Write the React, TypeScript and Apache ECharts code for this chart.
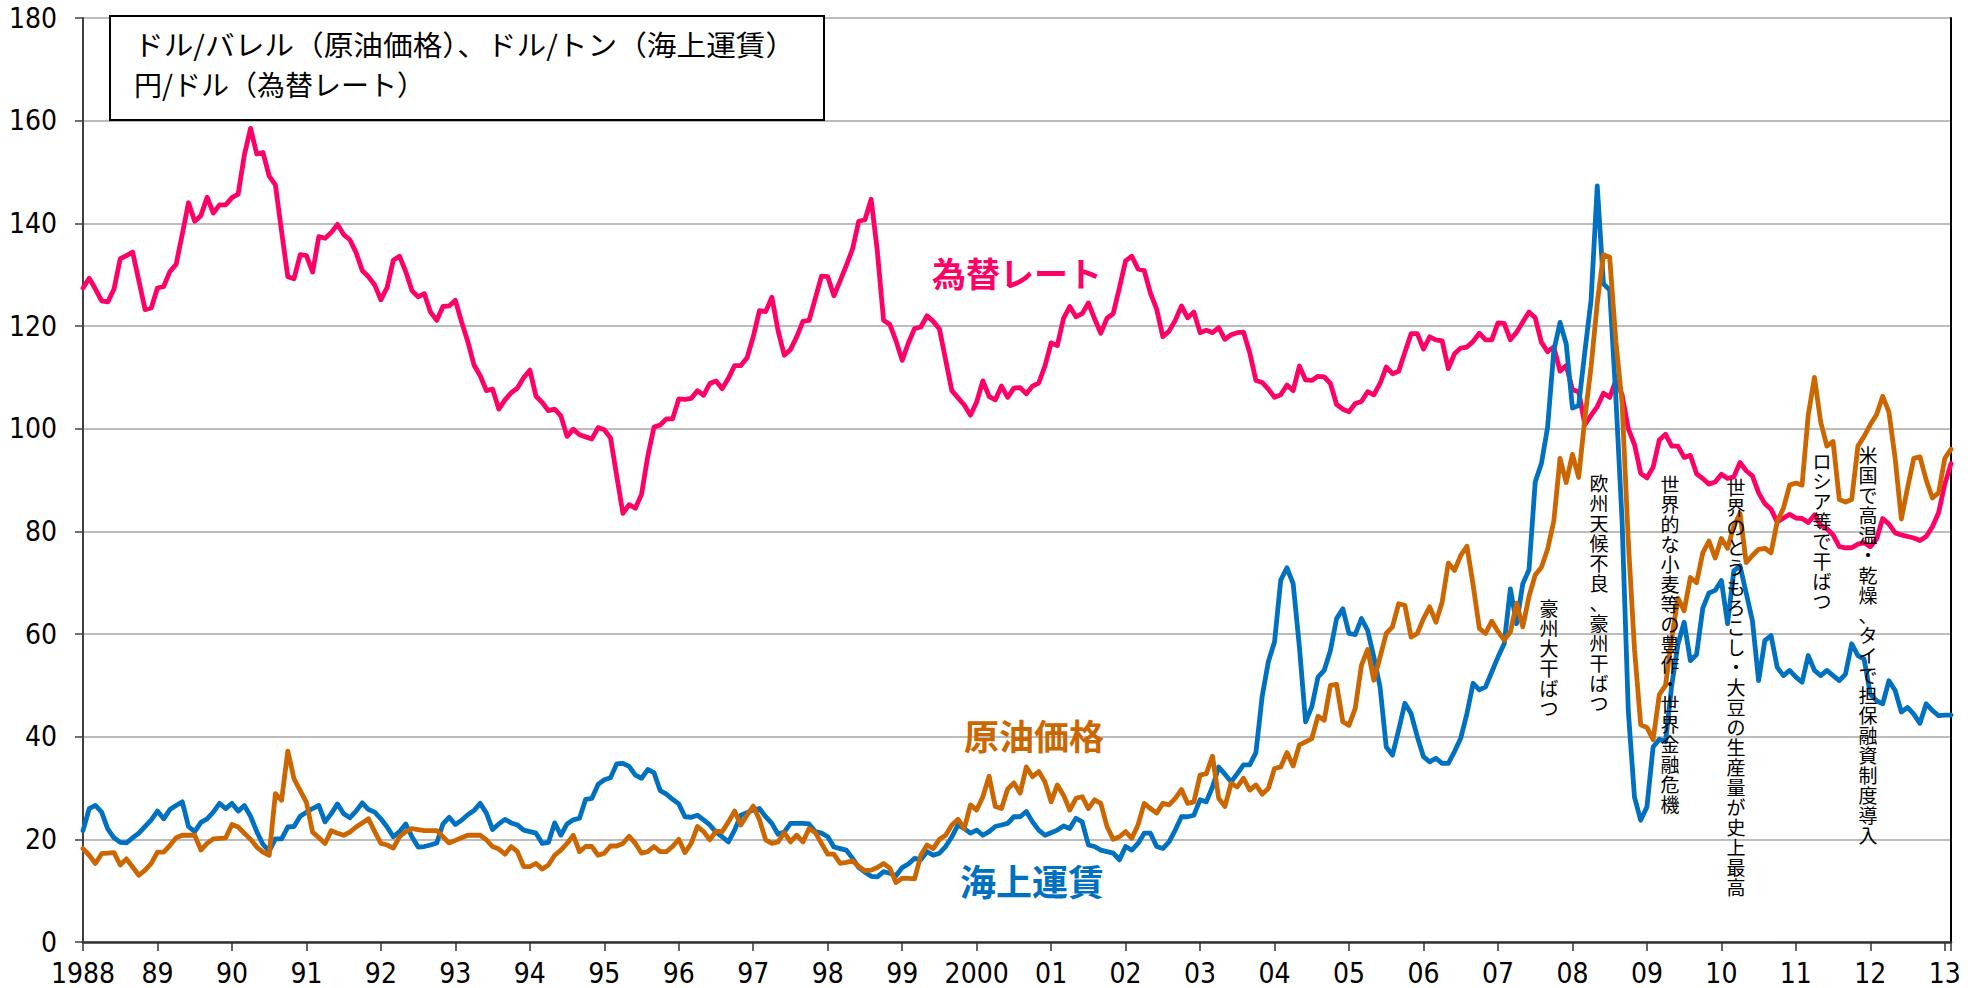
import React, { useEffect, useRef } from 'react';
import * as echarts from 'echarts';

// ---------- data (monthly, Jan 1988 - Feb 2013) ----------
const START_YEAR = 1988;

const yearLabels = [
  '1988', '89', '90', '91', '92', '93', '94', '95', '96', '97', '98', '99',
  '2000', '01', '02', '03', '04', '05', '06', '07', '08', '09', '10', '11', '12', '13',
];

// 為替レート (円/ドル)
const exchangeRate = [
  127.4, 129.3, 127.2, 124.9, 124.7, 127.2, 133.1, 133.7, 134.4, 128.8, 123.2, 123.5,
  127.4, 127.7, 130.6, 132.0, 137.9, 144.0, 140.4, 141.5, 145.1, 142.0, 143.6, 143.6,
  145.0, 145.7, 153.3, 158.5, 153.5, 153.8, 149.2, 147.5, 138.4, 129.6, 129.2, 133.9,
  133.7, 130.5, 137.4, 137.1, 138.2, 139.8, 137.8, 136.8, 134.3, 130.8, 129.6, 128.0,
  125.1, 127.5, 132.8, 133.6, 130.6, 126.9, 125.7, 126.3, 122.7, 121.1, 123.8, 123.9,
  125.0, 120.8, 117.0, 112.4, 110.3, 107.4, 107.7, 103.8, 105.6, 107.0, 107.9, 109.9,
  111.4, 106.3, 105.1, 103.5, 103.8, 102.5, 98.5, 99.9, 98.8, 98.4, 98.0, 100.2,
  99.8, 98.2, 90.8, 83.5, 85.2, 84.5, 87.2, 94.6, 100.3, 100.7, 101.9, 101.9,
  105.8, 105.7, 105.9, 107.4, 106.5, 108.8, 109.3, 107.8, 109.8, 112.3, 112.3, 113.8,
  117.9, 123.0, 122.8, 125.6, 119.1, 114.3, 115.4, 117.9, 120.9, 121.1, 125.4, 129.7,
  129.6, 125.9, 128.8, 131.8, 135.0, 140.4, 140.7, 144.7, 134.5, 121.1, 120.3, 117.1,
  113.3, 116.7, 119.5, 119.8, 122.0, 120.9, 119.4, 113.4, 107.4, 106.0, 104.6, 102.6,
  105.2, 109.3, 106.3, 105.6, 108.3, 106.1, 107.9, 108.0, 106.8, 108.3, 108.9, 112.2,
  116.7, 116.2, 121.5, 123.8, 121.8, 122.4, 124.5, 121.4, 118.6, 121.5, 122.4, 127.4,
  132.7, 133.6, 131.1, 130.8, 126.4, 123.3, 117.9, 119.0, 121.1, 123.9, 121.6, 122.7,
  118.7, 119.2, 118.7, 119.7, 117.4, 118.3, 118.7, 118.8, 114.8, 109.4, 109.0, 107.7,
  106.1, 106.6, 108.5, 107.4, 112.2, 109.5, 109.4, 110.2, 110.1, 108.8, 104.7, 103.8,
  103.3, 104.9, 105.3, 107.2, 106.6, 108.8, 112.0, 110.7, 111.2, 114.9, 118.5, 118.5,
  115.5, 117.9, 117.3, 117.1, 111.7, 114.6, 115.7, 115.9, 117.0, 118.6, 117.3, 117.3,
  120.6, 120.5, 117.3, 118.8, 120.8, 122.7, 121.6, 116.8, 115.0, 115.9, 111.2, 112.3,
  107.6, 107.2, 100.8, 102.6, 104.3, 106.9, 106.1, 109.4, 106.6, 100.0, 96.9, 91.3,
  90.4, 92.5, 97.8, 98.9, 96.6, 96.6, 94.4, 94.8, 91.2, 90.3, 89.2, 89.6,
  91.1, 90.3, 90.6, 93.4, 91.8, 90.8, 87.5, 85.4, 84.3, 81.8, 82.6, 83.3,
  82.6, 82.5, 81.7, 83.2, 81.2, 80.5, 79.3, 77.0, 76.8, 76.8, 77.5, 77.8,
  77.0, 78.5, 82.5, 81.4, 79.7, 79.3, 79.0, 78.7, 78.2, 79.0, 80.9, 83.6,
  89.2, 93.2,
];

// 原油価格 (ドル/バレル)
const crudeOil = [
  18.2, 16.9, 15.3, 17.2, 17.3, 17.4, 15.0, 16.2, 14.6, 13.0, 14.0, 15.3,
  17.5, 17.5, 18.8, 20.3, 20.8, 20.8, 20.8, 17.9, 19.2, 20.1, 20.2, 20.3,
  22.9, 22.4, 21.2, 20.0, 18.5, 17.5, 16.9, 28.9, 27.6, 37.2, 31.8, 29.5,
  27.2, 21.4, 20.3, 19.2, 21.7, 21.2, 20.8, 21.4, 22.4, 23.2, 24.0, 21.5,
  19.2, 18.9, 18.3, 20.5, 21.5, 22.1, 21.9, 21.7, 21.7, 21.7, 20.5, 19.3,
  19.8, 20.3, 20.8, 20.8, 20.8, 19.9, 18.6, 18.1, 17.1, 18.6, 17.6, 14.7,
  14.7, 15.3, 14.2, 15.0, 16.9, 17.9, 19.2, 20.8, 17.6, 18.6, 18.6, 16.9,
  17.3, 18.7, 18.7, 19.2, 20.6, 19.2, 17.3, 17.6, 18.6, 17.6, 17.6, 18.6,
  20.0, 17.4, 19.2, 22.5, 21.5, 19.9, 21.6, 21.5, 23.4, 25.5, 22.8, 24.7,
  26.5, 23.8, 19.9, 19.2, 19.5, 21.3, 19.5, 20.8, 19.5, 22.1, 21.3, 19.2,
  17.1, 17.1, 15.3, 15.5, 15.8, 14.7, 13.9, 14.0, 14.5, 15.3, 14.4, 11.6,
  12.4, 12.4, 12.3, 16.9, 18.9, 18.2, 20.0, 20.8, 22.8, 23.9, 22.1, 26.7,
  25.7, 28.3, 32.3, 26.4, 26.0, 29.8, 31.0, 29.0, 34.1, 32.2, 33.2, 31.2,
  27.3, 30.6, 28.6, 25.7, 28.0, 28.3, 26.0, 27.7, 27.0, 22.5, 20.0, 20.5,
  21.5, 20.2, 22.8, 27.0, 26.0, 25.1, 27.0, 26.7, 28.0, 29.7, 27.0, 27.3,
  32.5, 32.8, 36.2, 28.0, 26.4, 30.9, 30.2, 31.9, 29.6, 30.6, 28.8, 29.9,
  33.8, 34.1, 36.9, 34.3, 38.4, 39.0, 39.6, 44.0, 43.2, 50.0, 50.2, 42.9,
  42.2, 45.5, 53.9, 57.0, 51.0, 55.5, 60.1, 61.4, 65.9, 65.6, 59.4, 60.1,
  63.0, 65.3, 62.3, 66.2, 73.8, 72.4, 75.3, 77.1, 69.5, 61.1, 60.1, 62.5,
  60.5, 58.8, 60.4, 66.0, 61.4, 67.3, 71.5, 73.0, 76.5, 82.0, 94.2, 89.5,
  95.0, 90.5, 102.0, 112.0, 124.5, 133.9, 133.4, 117.0, 105.0, 78.0, 57.0, 42.3,
  41.8, 39.4, 48.2, 50.0, 59.2, 67.0, 64.5, 71.0, 70.0, 75.8, 78.1, 74.8,
  78.6, 76.7, 81.0, 83.5, 73.9, 75.3, 76.5, 76.7, 75.8, 81.9, 84.5, 89.0,
  89.4, 89.0, 102.7, 110.0, 101.3, 96.6, 97.5, 86.2, 85.7, 86.2, 96.6, 98.5,
  100.8, 102.7, 106.3, 103.2, 94.2, 82.4, 88.5, 94.2, 94.5, 90.0, 86.5, 87.5,
  94.2, 96.0,
];

// 海上運賃 (ドル/トン)
const oceanFreight = [
  21.7, 26.0, 26.6, 25.3, 22.0, 20.3, 19.4, 19.3, 20.3, 21.2, 22.5, 23.8,
  25.5, 24.0, 25.8, 26.6, 27.3, 22.5, 21.5, 23.3, 24.0, 25.3, 27.0, 26.0,
  27.0, 25.5, 26.6, 24.5, 21.5, 19.0, 17.7, 20.1, 20.1, 22.4, 22.5, 24.5,
  25.3, 26.0, 26.6, 23.4, 25.0, 26.9, 25.0, 24.2, 25.5, 27.1, 25.8, 25.3,
  24.0, 22.4, 20.5, 21.5, 23.0, 20.5, 18.5, 18.6, 18.9, 19.3, 23.0, 24.3,
  22.9, 23.7, 24.8, 25.6, 27.0, 25.1, 21.9, 23.0, 23.9, 23.2, 22.8, 21.8,
  21.5, 21.2, 19.2, 19.4, 23.2, 20.8, 23.0, 23.8, 24.1, 27.8, 28.0, 30.7,
  31.6, 32.0, 34.7, 34.8, 34.2, 32.5, 31.9, 33.6, 33.0, 29.5, 28.8, 27.8,
  26.9, 24.4, 24.3, 24.7, 23.8, 22.8, 21.4, 20.5, 19.5, 21.8, 24.7, 25.2,
  25.7, 26.0, 24.4, 23.1, 21.0, 21.4, 23.1, 23.1, 23.1, 23.0, 21.5, 21.2,
  20.5, 18.5, 18.2, 17.9, 16.3, 14.5, 13.6, 12.8, 12.7, 13.7, 13.4, 12.9,
  14.5, 15.2, 16.3, 16.0, 17.6, 16.9, 17.3, 18.6, 20.5, 22.8, 22.1, 21.2,
  21.8, 20.8, 21.5, 22.5, 22.8, 23.1, 24.4, 24.4, 25.4, 23.4, 21.8, 20.8,
  21.3, 21.8, 22.6, 22.1, 24.1, 23.4, 18.9, 18.6, 17.9, 17.6, 17.3, 16.0,
  18.6, 17.9, 19.2, 21.2, 21.2, 18.6, 18.2, 19.5, 21.8, 24.4, 24.4, 24.7,
  27.7, 27.3, 30.2, 34.1, 32.7, 31.2, 32.8, 34.5, 34.5, 36.9, 47.8, 54.6,
  58.5, 70.5, 72.9, 69.8, 57.5, 42.9, 45.8, 51.6, 52.9, 56.8, 63.0, 64.9,
  60.1, 59.9, 63.0, 60.7, 55.5, 49.7, 38.0, 36.4, 41.3, 46.5, 44.5, 40.0,
  36.1, 35.1, 35.8, 34.8, 34.8, 37.1, 39.7, 44.5, 50.4, 49.1, 49.7, 52.6,
  55.5, 58.1, 68.8, 62.0, 69.8, 72.5, 89.6, 93.2, 100.3, 115.2, 120.7, 116.5,
  104.0, 104.5, 115.0, 125.0, 147.3, 128.2, 127.0, 106.0, 82.0, 45.0, 28.2, 23.7,
  26.3, 38.0, 39.5, 39.0, 50.0, 58.0, 62.3, 54.8, 56.0, 65.0, 68.0, 68.5,
  70.4, 62.0, 72.3, 73.3, 68.0, 62.6, 50.9, 58.7, 59.7, 53.5, 51.9, 52.9,
  51.6, 50.6, 55.8, 52.9, 51.9, 52.9, 51.9, 50.9, 52.2, 58.1, 55.8, 55.1,
  48.3, 47.0, 46.4, 50.9, 49.0, 44.8, 45.7, 44.4, 42.6, 46.4, 45.1, 44.1,
  44.2, 44.2,
];

const unitLines = [
  'ドル/バレル（原油価格）、ドル/トン（海上運賃）',
  '円/ドル（為替レート）',
];
const seriesNames = ['為替レート', '原油価格', '海上運賃'];
const eventNotes = [
  '豪州大干ばつ',
  '欧州天候不良、豪州干ばつ',
  '世界的な小麦等の豊作・世界金融危機',
  '世界のとうもろこし・大豆の生産量が史上最高',
  'ロシア等で干ばつ',
  '米国で高温・乾燥、タイで担保融資制度導入',
];

// ---------- styling ----------
const COLORS = ['#FF0066', '#CC6600', '#0070C0'];
const NUM_FONT =
  '"Liberation Sans Narrow", "Arial Narrow", "DejaVu Sans Condensed", "Liberation Sans", sans-serif';
const JP_FONT = '"Noto Sans CJK JP", "Noto Sans JP", sans-serif';

const toPoints = (arr: number[]) => arr.map((v, i) => [START_YEAR + i / 12, v]);

const vertical = (s: string) => Array.from(s).join('\n');

export default function App() {
  const ref = useRef<HTMLDivElement>(null);

  useEffect(() => {
    if (!ref.current) return;
    const chart = echarts.init(ref.current, undefined, { renderer: 'svg' });

    const xMax = START_YEAR + (exchangeRate.length - 1) / 12;

    // label layout (pixel positions of annotation texts)
    const notePos = [
      [1549, 597],
      [1599, 472],
      [1670, 473],
      [1736, 476],
      [1822, 450],
      [1868, 444],
    ];
    const namePos = [
      [1017, 272, 34],
      [1034, 734, 35],
      [1032, 880, 36],
    ];
    const unitScale = [1.06, 1];

    const graphic: any[] = [
      {
        type: 'rect',
        z: 100,
        shape: { x: 110, y: 16, width: 714, height: 104 },
        style: { fill: '#fff', stroke: '#000', lineWidth: 2 },
      },
      ...unitLines.map((t, k) => ({
        type: 'text',
        z: 101,
        x: 134,
        y: k === 0 ? 44 : 84,
        scaleX: unitScale[k],
        style: {
          text: t,
          fill: '#000',
          fontSize: 28,
          fontFamily: JP_FONT,
          verticalAlign: 'middle',
          textVerticalAlign: 'middle',
          align: 'left',
          textAlign: 'left',
        },
      })),
      ...seriesNames.map((t, k) => ({
        type: 'text',
        z: 101,
        x: namePos[k][0],
        y: namePos[k][1],
        style: {
          text: t,
          fill: COLORS[k],
          fontSize: namePos[k][2],
          fontWeight: 'bold',
          fontFamily: JP_FONT,
          align: 'center',
          textAlign: 'center',
          verticalAlign: 'middle',
          textVerticalAlign: 'middle',
        },
      })),
      ...eventNotes.map((t, k) => ({
        type: 'text',
        z: 101,
        x: notePos[k][0],
        y: notePos[k][1],
        style: {
          text: vertical(t),
          fill: '#000',
          fontSize: 19,
          lineHeight: 20,
          fontFamily: JP_FONT,
          align: 'center',
          textAlign: 'center',
          verticalAlign: 'top',
          textVerticalAlign: 'top',
        },
      })),
    ];

    const lineSeries = (name: string, data: number[], color: string) => ({
      name,
      type: 'line',
      data: toPoints(data),
      showSymbol: false,
      symbol: 'none',
      smooth: false,
      lineStyle: { color, width: 4.8, join: 'round', cap: 'round' },
      itemStyle: { color },
      emphasis: { disabled: true },
    });

    chart.setOption({
      animation: false,
      backgroundColor: '#ffffff',
      textStyle: { fontFamily: NUM_FONT },
      grid: { left: 83, right: 19, top: 18, bottom: 46 },
      xAxis: {
        type: 'value',
        min: START_YEAR,
        max: xMax,
        interval: 1,
        axisLine: { show: true, lineStyle: { color: '#333', width: 2.5 } },
        axisTick: { show: true, length: 9, lineStyle: { color: '#333', width: 1.5 } },
        splitLine: { show: false },
        axisLabel: {
          margin: 17,
          fontSize: 28,
          fontFamily: NUM_FONT,
          color: '#000',
          formatter: (v: number) => {
            const r = Math.round(v);
            if (Math.abs(v - r) > 1e-6) return '';
            return yearLabels[r - START_YEAR] ?? '';
          },
        },
      },
      yAxis: [
        {
          type: 'value',
          min: 0,
          max: 180,
          interval: 20,
          axisLine: { show: true, lineStyle: { color: '#404040', width: 2 } },
          axisTick: { show: true, length: 8, lineStyle: { color: '#404040', width: 1.5 } },
          axisLabel: { margin: 26, fontSize: 28, fontFamily: NUM_FONT, color: '#000' },
          splitLine: { show: true, lineStyle: { color: '#A6A6A6', width: 1.5 } },
        },
        {
          type: 'value',
          position: 'right',
          min: 0,
          max: 180,
          interval: 20,
          axisLine: { show: true, lineStyle: { color: '#000', width: 2 } },
          axisTick: { show: false },
          axisLabel: { show: false },
          splitLine: { show: false },
        },
      ],
      series: [
        lineSeries(seriesNames[0], exchangeRate, COLORS[0]),
        lineSeries(seriesNames[2], oceanFreight, COLORS[2]),
        lineSeries(seriesNames[1], crudeOil, COLORS[1]),
      ],
      graphic,
    });

    return () => {
      chart.dispose();
    };
  }, []);

  return (
    <div
      ref={ref}
      style={{
        position: 'fixed',
        left: 0,
        top: 0,
        width: 1970,
        height: 988,
        background: '#fff',
      }}
    />
  );
}
